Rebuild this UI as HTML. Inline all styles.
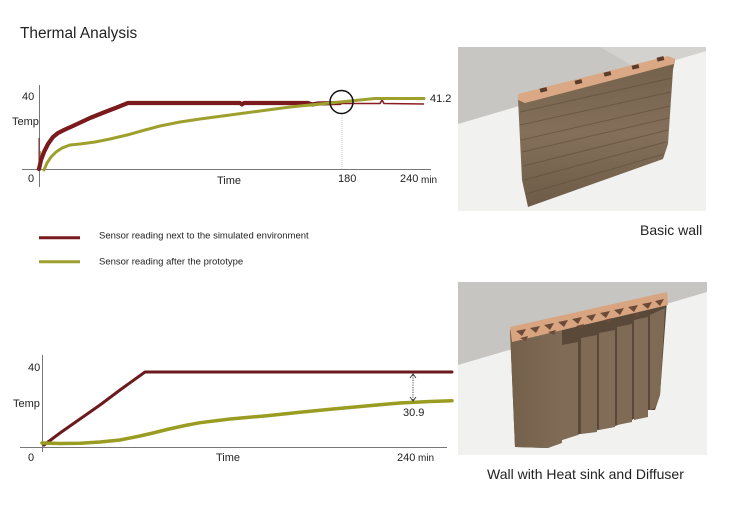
<!DOCTYPE html>
<html><head><meta charset="utf-8"><style>
html,body{margin:0;padding:0;background:#fff;}
svg{display:block;}
text{font-family:"Liberation Sans",Arial,sans-serif;}
</style></head><body>
<svg width="730" height="516" viewBox="0 0 730 516" xmlns="http://www.w3.org/2000/svg">
<defs>
<linearGradient id="front1" x1="0" y1="0" x2="0" y2="1">
<stop offset="0" stop-color="#74614b"/><stop offset="0.5" stop-color="#84705a"/><stop offset="1" stop-color="#6d5b47"/>
</linearGradient>
<linearGradient id="front2" x1="0" y1="0" x2="1" y2="0">
<stop offset="0" stop-color="#735f4a"/><stop offset="1" stop-color="#806c56"/>
</linearGradient>
</defs>
<rect width="730" height="516" fill="#fff"/>

<!-- Title -->
<text x="20" y="38" font-size="15.4" fill="#222">Thermal Analysis</text>

<!-- Chart 1 -->
<line x1="39.5" y1="85" x2="39.5" y2="187" stroke="#777" stroke-width="1"/>
<line x1="22" y1="169.5" x2="431" y2="169.5" stroke="#777" stroke-width="1"/>
<text x="22" y="100" font-size="11" fill="#222">40</text>
<text x="12" y="125" font-size="11" fill="#222">Temp</text>
<text x="28" y="182" font-size="11" fill="#222">0</text>
<text x="217" y="184" font-size="11" fill="#222">Time</text>
<text x="338" y="182" font-size="11" fill="#222">180</text>
<text x="400" y="182" font-size="11" fill="#222">240</text>
<text x="421" y="183" font-size="10" fill="#222">min</text>
<text x="430" y="102" font-size="11" fill="#222">41.2</text>
<line x1="342" y1="114" x2="342" y2="169" stroke="#ccc" stroke-width="0.8" stroke-dasharray="1,1"/>
<line x1="39" y1="169" x2="39" y2="138" stroke="#7a1c1c" stroke-width="1"/>
<line x1="40.5" y1="169" x2="40.5" y2="151" stroke="#a3a336" stroke-width="1"/>
<polyline fill="none" stroke="#7a1a1c" stroke-width="4.2" stroke-linejoin="round" stroke-linecap="round"
 points="39,169 41,160 44,152 48,144 53,137 58,133 64,130 75,125 90,118 105,112 118,107 128,103 240,103 242,104.5 244,103 308,103 312,104.5 318,103.5 340,103"/>
<polyline fill="none" stroke="#8a1d20" stroke-width="1.6" points="340,103.5 380,103.5 382,100 384,103.5 424,104"/>
<polyline fill="none" stroke="#9ea02e" stroke-width="3" stroke-linejoin="round" stroke-linecap="round"
 points="44,170 47,163 51,157 56,152 62,148 70,145 80,144 95,142 110,139 127,135 145,130 160,126 180,122 200,119 230,115 260,111 290,107 320,104 340,102 360,100 375,98.5 424,98.5"/>
<circle cx="341.5" cy="102" r="11.5" fill="none" stroke="#111" stroke-width="1.5"/>

<!-- Legend -->
<line x1="39" y1="237.7" x2="80" y2="237.7" stroke="#7a1a1c" stroke-width="3"/>
<text x="99" y="238.5" font-size="9.5" fill="#222">Sensor reading next to the simulated environment</text>
<line x1="39" y1="261.7" x2="80" y2="261.7" stroke="#9ea02e" stroke-width="3"/>
<text x="99" y="264.5" font-size="9.5" fill="#222">Sensor reading after the prototype</text>

<!-- Chart 2 -->
<line x1="42.5" y1="355" x2="42.5" y2="452" stroke="#777" stroke-width="1"/>
<line x1="20" y1="447.5" x2="447" y2="447.5" stroke="#777" stroke-width="1"/>
<text x="28" y="371" font-size="11" fill="#222">40</text>
<text x="13" y="407" font-size="11" fill="#222">Temp</text>
<text x="28" y="461" font-size="11" fill="#222">0</text>
<text x="216" y="461" font-size="11" fill="#222">Time</text>
<text x="397" y="461" font-size="11" fill="#222">240</text>
<text x="418" y="461" font-size="10" fill="#222">min</text>
<text x="403" y="416" font-size="11" fill="#222">30.9</text>
<polyline fill="none" stroke="#6b1a1e" stroke-width="3" stroke-linejoin="round" stroke-linecap="round"
 points="44,445 60,433 80,419 100,405 120,390 145,372 452,372"/>
<polyline fill="none" stroke="#9a9c22" stroke-width="3.5" stroke-linejoin="round" stroke-linecap="round"
 points="42,443 60,443.5 80,443.3 100,442 120,440 140,436 155,432.5 167,429.5 185,425.5 200,422.7 230,419 267,415.7 300,412.3 333,409 370,405.6 400,403 430,401.5 452,400.7"/>
<line x1="413" y1="375" x2="413" y2="400" stroke="#333" stroke-width="0.9" stroke-dasharray="1.2,1.2"/>
<polyline fill="none" stroke="#333" stroke-width="0.9" points="410,378 413,374 416,378"/>
<polyline fill="none" stroke="#333" stroke-width="0.9" points="410,397 413,401 416,397"/>

<!-- Photo 1 -->
<rect x="458" y="47" width="248" height="164" fill="#f1f1f0"/>
<polygon points="458,47 706,47 706,51 458,124" fill="#c7c6c2"/>
<polygon points="600,47 706,47 706,51 640,70" fill="#d3d2ce"/>
<polygon points="518,99 675,60 673,70 668,144 663,159 528,207 522,180" fill="url(#front1)"/>
<g stroke="#5d4c3b" stroke-width="1" opacity="0.6">
<line x1="520" y1="112" x2="672" y2="78"/>
<line x1="520" y1="125" x2="671" y2="92"/>
<line x1="521" y1="140" x2="670" y2="106"/>
<line x1="522" y1="152" x2="669" y2="118"/>
<line x1="523" y1="166" x2="668" y2="130"/>
<line x1="524" y1="180" x2="666" y2="142"/>
<line x1="526" y1="194" x2="664" y2="154"/>
</g>
<polygon points="518,94 668,56 675,59 674,64 525,103 518,100" fill="#dba885"/>
<g fill="#5a3c2c">
<rect x="540" y="88" width="7" height="4" transform="rotate(-14 543 90)"/>
<rect x="575" y="80" width="7" height="4" transform="rotate(-14 578 82)"/>
<rect x="604" y="72" width="7" height="4" transform="rotate(-14 607 74)"/>
<rect x="632" y="65" width="7" height="4" transform="rotate(-14 635 67)"/>
<rect x="657" y="57" width="7" height="4" transform="rotate(-14 660 59)"/>
</g>
<text x="640" y="235" font-size="14" fill="#222">Basic wall</text>

<!-- Photo 2 -->
<rect x="458" y="282" width="249" height="173" fill="#f1f1f0"/>
<polygon points="458,282 707,282 707,292 458,365" fill="#c6c5c1"/>
<polygon points="510,330 562,318 665,296 667,300 660,395 655,410 647,410 632,420 615,426 598,430 580,434 562,440 548,448 515,447" fill="#5a4939"/>
<polygon points="510,330 562,320 562,443 548,448 515,447" fill="url(#front2)"/>
<polygon points="562,345 578,342 578,435 562,440" fill="#806c56"/>
<polygon points="581,338 597,335 597,432 581,434" fill="#7f6b55"/>
<polygon points="599,333 615,330 615,427 599,430" fill="#816d57"/>
<polygon points="617,327 632,324 632,422 617,425" fill="#7f6b55"/>
<polygon points="634,320 648,317 648,417 634,420" fill="#806c56"/>
<polygon points="650,315 665,308 660,395 655,408 650,410" fill="#7f6b55"/>
<polygon points="510,327 667,292 668,305 512,342" fill="#d9a480"/>
<g fill="#6a4a38">
<polygon points="516,331 526,329 522,336"/>
<polygon points="530,328 540,326 536,333"/>
<polygon points="544,325 554,323 550,330"/>
<polygon points="558,322 568,320 564,327"/>
<polygon points="572,319 582,317 578,324"/>
<polygon points="586,316 596,314 592,321"/>
<polygon points="600,313 610,311 606,318"/>
<polygon points="614,310 624,308 620,315"/>
<polygon points="628,307 638,305 634,312"/>
<polygon points="642,304 652,302 648,309"/>
<polygon points="655,301 664,299 660,306"/>
<polygon points="520,338 528,336 526,341"/>
<polygon points="548,332 556,330 554,335"/>
<polygon points="576,326 584,324 582,329"/>
<polygon points="604,320 612,318 610,323"/>
<polygon points="632,314 640,312 638,317"/>
</g>
<text x="487" y="479" font-size="14" fill="#222">Wall with Heat sink and Diffuser</text>
</svg>
</body></html>
